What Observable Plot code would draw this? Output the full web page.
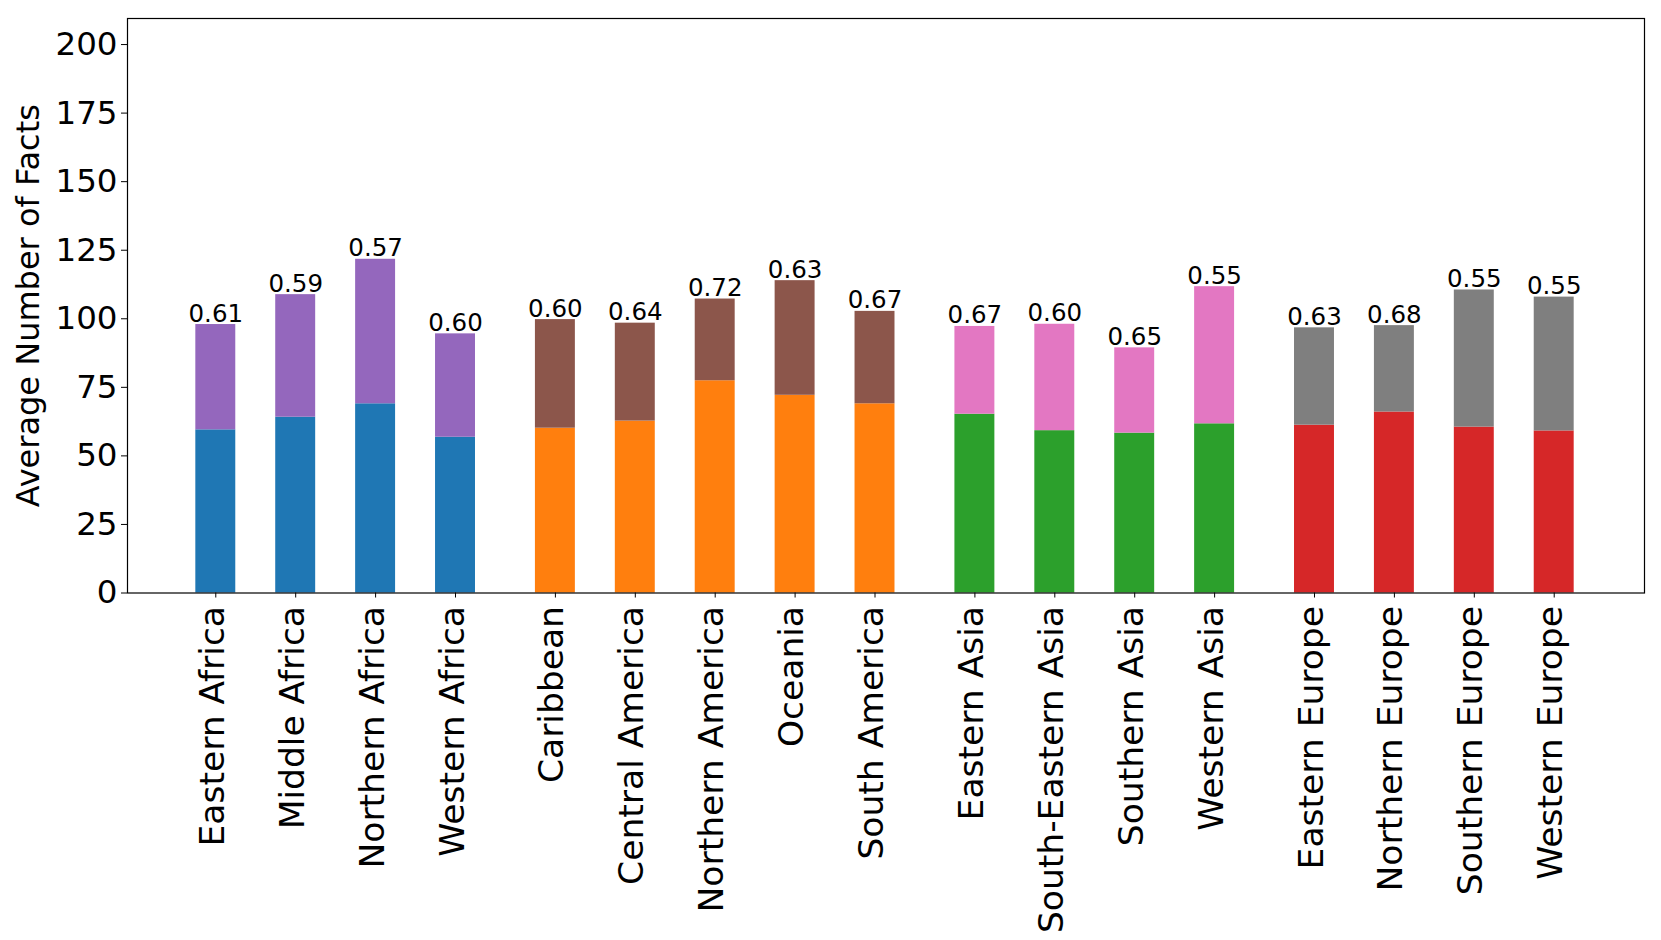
<!DOCTYPE html>
<html>
<head>
<meta charset="utf-8">
<script src="https://cdn.jsdelivr.net/npm/d3@7"></script>
<script src="https://cdn.jsdelivr.net/npm/@observablehq/plot@0.6"></script>
<style>
  html, body { margin: 0; padding: 0; background: #fff; }
  #chart { width: 1661px; height: 940px; }
</style>
</head>
<body>
<div id="chart"></div>
<script>
const regions = ["Eastern Africa", "Middle Africa", "Northern Africa", "Western Africa",
  "Caribbean", "Central America", "Northern America", "Oceania", "South America",
  "Eastern Asia", "South-Eastern Asia", "Southern Asia", "Western Asia",
  "Eastern Europe", "Northern Europe", "Southern Europe", "Western Europe"];
const regionGroup = [0, 0, 0, 0, 1, 1, 1, 1, 1, 2, 2, 2, 2, 3, 3, 3, 3];
const baseValues = [59.5, 64.1, 69.0, 56.8, 60.1, 62.7, 77.4, 72.1, 69.0, 65.2, 59.2, 58.3, 61.7, 61.2, 66.0, 60.5, 59.1];
const totalValues = [97.9, 108.8, 121.7, 94.5, 99.7, 98.4, 107.2, 113.9, 102.7, 97.2, 98.0, 89.4, 111.7, 96.7, 97.5, 110.5, 107.9];
const ratioLabels = ["0.61", "0.59", "0.57", "0.60", "0.60", "0.64", "0.72", "0.63", "0.67",
  "0.67", "0.60", "0.65", "0.55", "0.63", "0.68", "0.55", "0.55"];
const baseColors = ["#1f77b4", "#ff7f0e", "#2ca02c", "#d62728"];
const topColors = ["#9467bd", "#8c564b", "#e377c2", "#7f7f7f"];
const yTicks = [0, 25, 50, 75, 100, 125, 150, 175, 200];
const yLabel = "Average Number of Facts";

// slot positions: one slot per region, plus a quarter slot gap between groups
const groupGap = 0.25;
const barHalf = 0.25;
const data = regions.map((name, i) => ({
  name,
  pos: i + groupGap * regionGroup[i],
  group: regionGroup[i],
  base: baseValues[i],
  total: totalValues[i],
  label: ratioLabels[i]
}));
const nameByPos = new Map(data.map(d => [d.pos, d.name]));
const lastPos = data[data.length - 1].pos;
const xTickPositions = data.map(d => d.pos);

const chart = Plot.plot({
  width: 1661,
  height: 940,
  marginTop: 18,
  marginRight: 17,
  marginBottom: 347.5,
  marginLeft: 127,
  style: { fontFamily: "DejaVu Sans", color: "#000", background: "#fff" },
  x: { type: "linear", domain: [-1.105, lastPos + 1.13] },
  y: { domain: [0, 209.5] },
  color: { type: "identity" },
  marks: [
    Plot.rectY(data, {
      x1: d => d.pos - barHalf, x2: d => d.pos + barHalf,
      y1: 0, y2: "base",
      fill: d => baseColors[d.group]
    }),
    Plot.rectY(data, {
      x1: d => d.pos - barHalf, x2: d => d.pos + barHalf,
      y1: "base", y2: "total",
      fill: d => topColors[d.group]
    }),
    Plot.text(data, {
      x: "pos", y: "total", text: "label",
      lineAnchor: "bottom", dy: -3, fontSize: 24.5, fill: "#000"
    }),
    Plot.axisY({
      ticks: yTicks, tickSize: 6, tickPadding: 4, fontSize: 32.5, label: null
    }),
    Plot.axisX({
      ticks: xTickPositions, tickFormat: () => "", tickSize: 5, label: null
    }),
    Plot.axisX({
      ticks: xTickPositions,
      tickFormat: d => nameByPos.get(d),
      tickRotate: -90, tickSize: 0, tickPadding: 13, dx: -3, fontSize: 34.5, label: null
    }),
    Plot.text([yLabel], {
      text: d => d, frameAnchor: "left", textAnchor: "middle", rotate: -90, dx: -99,
      fontSize: 32, fill: "#000"
    }),
    Plot.frame({ stroke: "#000", strokeWidth: 1.2 })
  ]
});
document.getElementById("chart").appendChild(chart);
</script>
</body>
</html>
